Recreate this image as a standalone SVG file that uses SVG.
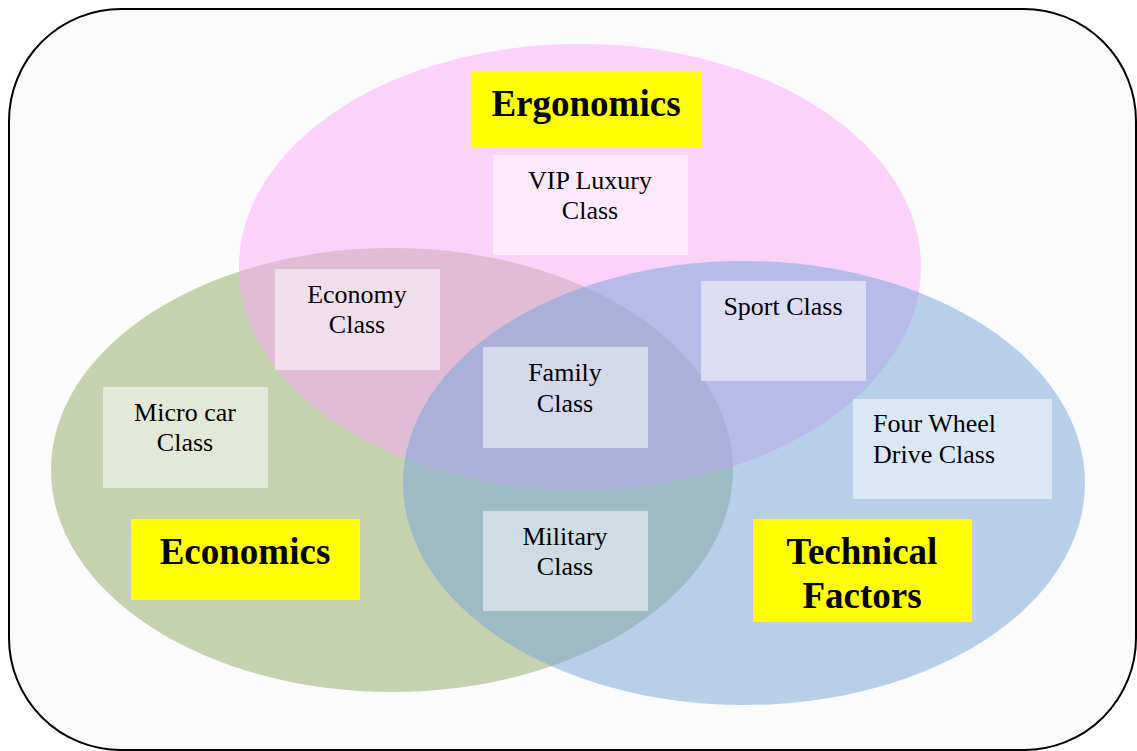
<svg xmlns="http://www.w3.org/2000/svg" width="1137" height="751" viewBox="0 0 1137 751">
<style>
.set{fill-opacity:0.5;stroke:none}
.lbl{fill:#ffffff;fill-opacity:0.5}
.hdr{fill:#ffff00}
.t{font-family:"Liberation Serif","Times New Roman",serif;font-size:26px;fill:#000;text-anchor:middle}
.s{text-anchor:start}
.h{font-family:"Liberation Serif","Times New Roman",serif;font-size:37px;font-weight:bold;fill:#000;text-anchor:middle}
</style>
<rect x="9" y="9" width="1127" height="741" rx="112" ry="112" fill="#fbfbfb" stroke="#000" stroke-width="2"/>
<g id="sets">
<ellipse id="set-economics" class="set" cx="392" cy="470" rx="341" ry="222" fill="#91a766"/>
<ellipse id="set-ergonomics" class="set" cx="580" cy="267" rx="341" ry="223" fill="#f9a9f9"/>
<ellipse id="set-technical" class="set" cx="744" cy="483" rx="341" ry="222" fill="#75a3d9"/>
</g>
<g id="connectors"></g>
<g id="ergonomics">
<rect class="hdr" x="471" y="71" width="231" height="76"/>
<text class="h" x="586" y="116">Ergonomics</text>
</g>
<g id="economics">
<rect class="hdr" x="131" y="519" width="229" height="81"/>
<text class="h" x="245" y="564">Economics</text>
</g>
<g id="technical">
<rect class="hdr" x="753" y="519" width="219" height="103"/>
<text class="h" x="862" y="564">Technical</text>
<text class="h" x="862" y="608">Factors</text>
</g>
<g id="vip">
<rect class="lbl" x="493" y="155" width="195" height="100"/>
<text class="t" x="590" y="189">VIP Luxury</text>
<text class="t" x="590" y="219">Class</text>
</g>
<g id="economy">
<rect class="lbl" x="275" y="269" width="165" height="101"/>
<text class="t" x="357" y="303">Economy</text>
<text class="t" x="357" y="333">Class</text>
</g>
<g id="sport">
<rect class="lbl" x="701" y="281" width="165" height="100"/>
<text class="t" x="783" y="315">Sport Class</text>
</g>
<g id="family">
<rect class="lbl" x="483" y="347" width="165" height="101"/>
<text class="t" x="565" y="381">Family</text>
<text class="t" x="565" y="412">Class</text>
</g>
<g id="microcar">
<rect class="lbl" x="103" y="387" width="165" height="101"/>
<text class="t" x="185" y="421">Micro car</text>
<text class="t" x="185" y="451">Class</text>
</g>
<g id="fourwheel">
<rect class="lbl" x="853" y="399" width="199" height="100"/>
<text class="t s" x="873" y="432">Four Wheel</text>
<text class="t s" x="873" y="463">Drive Class</text>
</g>
<g id="military">
<rect class="lbl" x="483" y="511" width="165" height="100"/>
<text class="t" x="565" y="545">Military</text>
<text class="t" x="565" y="575">Class</text>
</g>
</svg>
